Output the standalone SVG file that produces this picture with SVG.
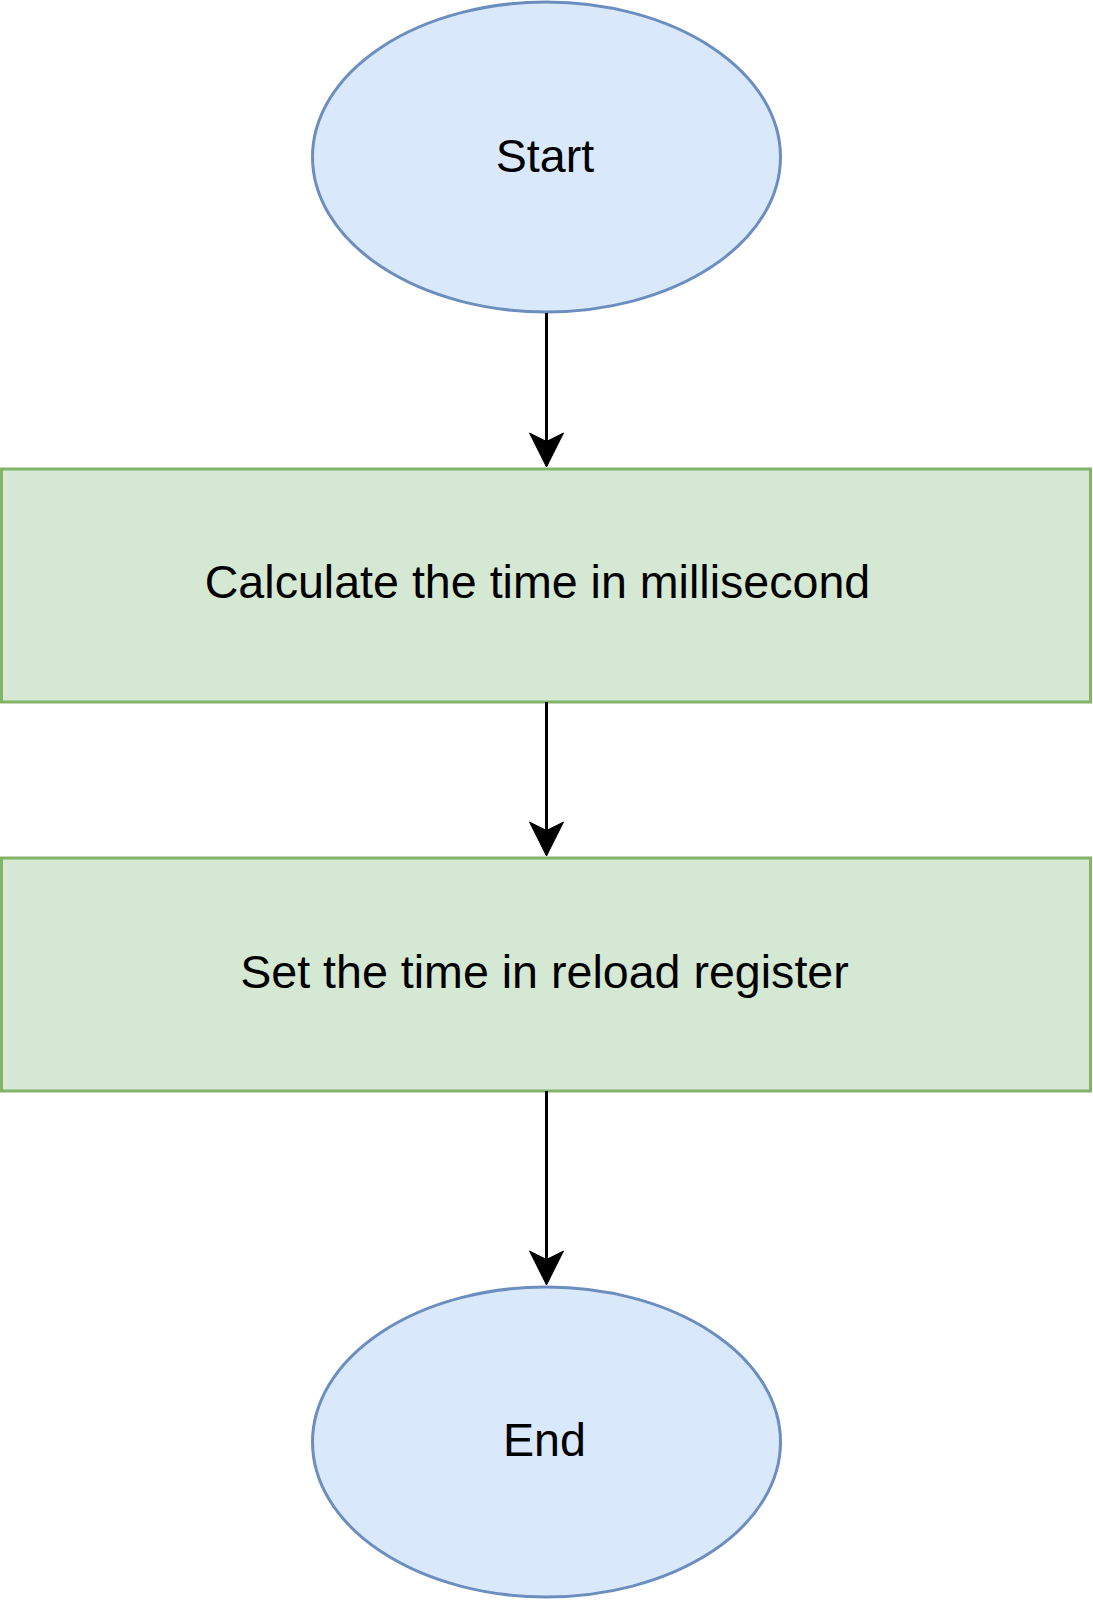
<svg xmlns="http://www.w3.org/2000/svg" width="1093" height="1600" viewBox="0 0 1093 1600">
<style>
.term{fill:#dae8fc;stroke:#6c8ebf;stroke-width:3}
.proc{fill:#d5e8d4;stroke:#82b366;stroke-width:3}
.lbl{font-family:"Liberation Sans",Arial,sans-serif;font-size:46.6px;fill:#000;text-anchor:middle}
.edge{stroke:#000;stroke-width:3;fill:none}
.head{fill:#000;stroke:#000;stroke-width:1}
</style>
<rect width="1093" height="1600" fill="#fff"/>
<g id="start">
<ellipse class="term" cx="546.5" cy="157" rx="234" ry="155"/>
<text class="lbl" x="545" y="172">Start</text>
</g>
<g id="calc">
<rect class="proc" x="1.5" y="469" width="1089" height="233"/>
<text class="lbl" x="537.5" y="598">Calculate the time in millisecond</text>
</g>
<g id="set">
<rect class="proc" x="1.5" y="858" width="1089" height="233"/>
<text class="lbl" x="544.5" y="988">Set the time in reload register</text>
</g>
<g id="end">
<ellipse class="term" cx="546.5" cy="1442" rx="234" ry="155"/>
<text class="lbl" x="544.5" y="1456">End</text>
</g>
<g id="connectors">
<path class="edge" d="M546.5 313 V445"/>
<path class="head" d="M546.5 467 L529.5 433 L546.5 441.5 L563.5 433 Z"/>
<path class="edge" d="M546.5 702 V834"/>
<path class="head" d="M546.5 856 L529.5 822 L546.5 830.5 L563.5 822 Z"/>
<path class="edge" d="M546.5 1091 V1263"/>
<path class="head" d="M546.5 1285 L529.5 1251 L546.5 1259.5 L563.5 1251 Z"/>
</g>
</svg>
